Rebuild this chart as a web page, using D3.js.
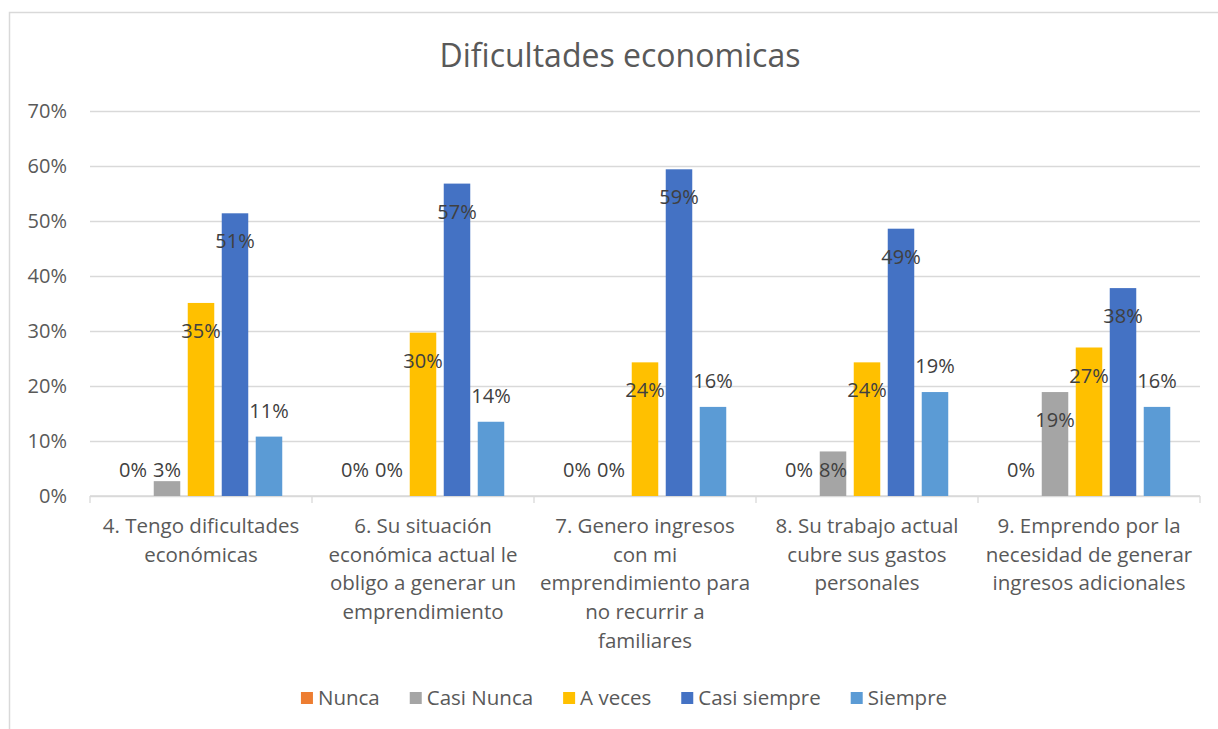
<!DOCTYPE html>
<html>
<head>
<meta charset="utf-8">
<script src="https://cdn.jsdelivr.net/npm/d3@7"></script>
<style>
  body { margin: 0; background: #fff; }
  svg text { font-family: "Open Sans", sans-serif; }
</style>
</head>
<body>
<svg width="1218" height="729"></svg>
<script>
const categories = ["c4", "c6", "c7", "c8", "c9"];
const categoryLines = [
	["4. Tengo dificultades", "económicas"],
	["6. Su situación", "económica actual le", "obligo a generar un", "emprendimiento"],
	["7. Genero ingresos", "con mi", "emprendimiento para", "no recurrir a", "familiares"],
	["8. Su trabajo actual", "cubre sus gastos", "personales"],
	["9. Emprendo por la", "necesidad de generar", "ingresos adicionales"]
];
const seriesNames = ["Nunca", "Casi Nunca", "A veces", "Casi siempre", "Siempre"];
const seriesColors = ["#ED7D31", "#A5A5A5", "#FFC000", "#4472C4", "#5B9BD5"];
// values in percent
const nunca = [0, 0, 0, 0, 0];
const casiNunca = [2.7, 0, 0, 8.1, 18.9];
const aVeces = [35.1, 29.7, 24.3, 24.3, 27.0];
const casiSiempre = [51.4, 56.8, 59.4, 48.6, 37.8];
const siempre = [10.8, 13.5, 16.2, 18.9, 16.2];
const yTicks = [0, 10, 20, 30, 40, 50, 60, 70];
const title = "Dificultades economicas";

const svg = d3.select("svg");
const plotLeft = 90, plotRight = 1200, plotTop = 111, plotBottom = 496;
const seriesValues = [nunca, casiNunca, aVeces, casiSiempre, siempre];

// chart frame
svg.append("rect")
	.attr("x", 9.5).attr("y", 12.5)
	.attr("width", 1300).attr("height", 800)
	.attr("fill", "#fff").attr("stroke", "#d9d9d9").attr("stroke-width", 1.5);

const x0 = d3.scaleBand().domain(categories).range([plotLeft, plotRight]).padding(0);
const x1 = d3.scaleBand().domain(seriesNames)
	.range([29.75, x0.bandwidth() - 29.75]).paddingInner(0.22).paddingOuter(0);
const y = d3.scaleLinear().domain([0, 70]).range([plotBottom, plotTop]);

// title
svg.append("text")
	.attr("x", 620).attr("y", 67)
	.attr("text-anchor", "middle")
	.attr("fill", "#595959")
	.style("font-size", "32px")
	.text(title);

// y axis + gridlines
const yAxis = svg.append("g")
	.attr("transform", `translate(${plotLeft},0)`)
	.call(d3.axisLeft(y).tickValues(yTicks).tickSize(-(plotRight - plotLeft)).tickPadding(23).tickFormat(d => d + "%"));
yAxis.select(".domain").remove();
yAxis.selectAll("line").attr("stroke", "#d9d9d9").attr("stroke-width", 1.3);
yAxis.selectAll("text").attr("fill", "#595959").style("font-size", "20px");

// category axis
const xAxis = svg.append("g");
xAxis.append("line")
	.attr("x1", plotLeft).attr("x2", plotRight).attr("y1", plotBottom).attr("y2", plotBottom)
	.attr("stroke", "#d9d9d9").attr("stroke-width", 1.3);
const bounds = categories.map(c => x0(c)).concat([plotRight]);
xAxis.selectAll(".tk").data(bounds).join("line")
	.attr("x1", d => d).attr("x2", d => d)
	.attr("y1", plotBottom).attr("y2", plotBottom + 7)
	.attr("stroke", "#d9d9d9").attr("stroke-width", 1.3);
categories.forEach((c, i) => {
	const t = xAxis.append("text")
		.attr("x", x0(c) + x0.bandwidth() / 2)
		.attr("y", 533)
		.attr("text-anchor", "middle")
		.attr("fill", "#595959")
		.style("font-size", "20.5px");
	categoryLines[i].forEach((line, j) => {
		t.append("tspan")
			.attr("x", x0(c) + x0.bandwidth() / 2)
			.attr("y", 533 + j * 28.7)
			.text(line);
	});
});

// bars
seriesNames.forEach((s, si) => {
	const g = svg.append("g");
	g.selectAll("rect").data(seriesValues[si]).join("rect")
		.attr("x", (d, i) => x0(categories[i]) + x1(s))
		.attr("y", d => y(d))
		.attr("width", x1.bandwidth())
		.attr("height", d => plotBottom - y(d))
		.attr("fill", seriesColors[si]);
});

// data labels: Siempre sits above its bar, the others just inside the top
seriesNames.forEach((s, si) => {
	seriesValues[si].forEach((v, i) => {
		const topY = y(v);
		let cy;
		if (si === 4) cy = topY - 26;
		else cy = Math.min(topY + 28, plotBottom - 26);
		svg.append("text")
			.attr("x", x0(categories[i]) + x1(s) + x1.bandwidth() / 2)
			.attr("y", cy)
			.attr("dy", "0.35em")
			.attr("text-anchor", "middle")
			.attr("fill", "#404040")
			.style("font-size", "20px")
			.text(Math.round(v) + "%");
	});
});

// legend
const legend = svg.append("g");
let lx = 0;
seriesNames.forEach((s, si) => {
	const it = legend.append("g").attr("transform", `translate(${lx},0)`);
	it.append("rect").attr("x", 0).attr("y", -13).attr("width", 12).attr("height", 12)
		.attr("fill", seriesColors[si]);
	const t = it.append("text").attr("x", 17).attr("y", 0)
		.attr("fill", "#595959").style("font-size", "20.5px").text(s);
	lx += 17 + t.node().getComputedTextLength() + 30;
});
const legendWidth = lx - 30;
legend.attr("transform", `translate(${624 - legendWidth / 2},705)`);
</script>
</body>
</html>
